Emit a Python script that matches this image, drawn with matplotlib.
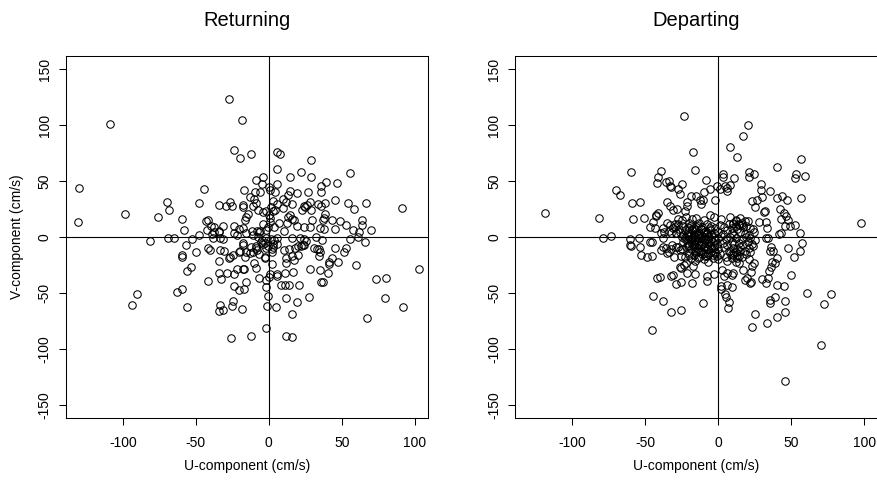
import matplotlib
matplotlib.use('Agg')
import matplotlib.pyplot as plt

# --- 配置 ---
plt.rcParams['font.family'] = ['Liberation Sans', 'DejaVu Sans']

TITLES = ['Returning', 'Departing']
X_LABEL = 'U-component (cm/s)'
Y_LABEL = 'V-component (cm/s)'
X_TICKS = [-100, -50, 0, 50, 100]
Y_TICKS = [-150, -100, -50, 0, 50, 100, 150]

# --- 数据: Returning (u, v) ---
ret_u = [-27.4, -18.7, -108.7, -130.0, -130.8, -98.4, -24.0, -19.6, -12.1, 5.7,
         7.5, 29.0, 5.9, 29.0, 22.4, 55.5, 14.8, 46.8, 39.3, 36.0,
         35.8, -4.3, -8.7, -4.6, 5.5, 0.0, 0.7, 4.1, 14.8, 19.2,
         26.7, 13.0, 9.6, 11.9, 15.8, 28.3, 33.6, 36.0, 38.6, 45.2,
         54.6, 58.7, 66.9, 91.6, -44.7, -47.9, -69.9, -68.5, -75.8, -81.3,
         -69.0, -64.8, -59.6, -57.8, -56.8, -52.7, -50.0, -47.5, -59.4, -59.4,
         -55.9, -53.2, -62.6, -59.8, -90.4, -93.8, -55.9, -34.2, -26.7, -25.3,
         -29.5, -17.1, -17.4, -17.4, -14.4, -15.9, -10.7, -8.9, -10.3, -13.0,
         -9.6, -5.9, -7.1, -4.1, -1.8, 0.0, 3.0, 4.6, 1.6, 2.7,
         5.9, 9.8, 14.6, 13.0, 12.3, 16.0, 17.1, 19.0, 22.8, 24.0,
         26.5, 25.1, 29.2, 29.9, 24.0, 28.1, 32.6, 36.5, 34.9, 37.7,
         37.7, 38.8, 37.2, 43.0, 45.2, 49.1, 52.7, 57.5, 55.5, 61.6,
         61.0, 63.9, 64.2, 69.9, 65.8, 53.2, 51.6, 45.2, 47.3, 41.6,
         41.1, 43.0, 40.9, 34.9, 37.2, 36.0, 28.5, 27.9, 30.8, 33.3,
         34.7, 35.4, 34.2, 59.8, 73.7, 80.6, 79.7, 91.8, 102.7, 67.1,
         20.5, 19.6, 15.8, 16.0, 11.9, 11.9, 13.9, 11.4, 8.4, 11.4,
         16.4, 11.9, 11.9, 10.7, 13.7, 15.8, 17.6, 19.9, 18.3, 20.1,
         22.4, 23.3, 24.4, 25.6, 24.2, 21.5, 16.2, 10.5, 3.7, 7.3,
         0.7, 0.7, -0.5, -3.7, -1.8, -5.9, -6.8, -8.4, -11.0, -7.3,
         -4.6, -1.8, 1.6, 3.9, 5.7, 3.0, 5.7, -2.3, -0.5, -1.6,
         2.3, 3.0, 2.5, -2.3, -2.5, -4.1, -5.3, -8.9, -9.1, -8.0,
         -10.7, -12.1, -13.0, -6.6, -10.3, -9.1, 2.3, 0.7, 0.0, -1.6,
         -6.4, 5.7, 5.7, -1.8, -0.7, -1.1, 5.0, -1.8, -12.3, -25.6,
         -25.1, -24.4, -33.6, -34.0, -31.5, -18.5, -24.0, -20.5, -17.1, -15.3,
         -42.0, -33.8, -32.9, -28.3, -24.0, -21.7, -17.8, -16.7, -16.0, -15.3,
         -19.4, -20.3, -17.8, -17.8, -24.2, -26.5, -27.4, -34.2, -33.1, -30.8,
         -42.0, -40.4, -33.6, -31.7, -37.7, -38.4, -38.6, -42.2, -42.7, -41.6,
         -39.7, -37.7, -33.8, -31.3, -34.2, -23.5, -23.5, -21.7, -20.5, -17.8,
         -16.2, -11.6, -15.8]
ret_v = [123.8, 105.0, 101.5, 44.0, 13.7, 21.0, 78.0, 71.0, 74.4, 76.2,
         74.7, 69.3, 61.3, 53.9, 58.3, 57.7, 53.3, 48.5, 49.4, 45.8,
         40.5, 53.9, 51.2, 47.6, 47.6, 45.0, 42.0, 40.5, 41.0, 39.0,
         40.2, 37.5, 34.5, 31.5, 29.5, 31.8, 29.8, 27.7, 30.7, 33.0,
         30.7, 25.3, 30.4, 25.9, 42.9, 30.1, 31.8, 23.8, 18.2, -3.9,
         -1.2, -0.9, 16.1, 6.3, -7.1, -1.5, -13.1, 1.8, -16.1, -17.6,
         -30.0, -26.5, -49.4, -46.4, -51.2, -61.0, -62.5, 28.6, 31.0, 27.7,
         28.0, 42.0, 28.9, 27.0, 20.8, 17.6, 28.0, 30.4, 34.5, 36.0,
         40.5, 39.9, 23.8, 22.3, 23.5, 19.6, 23.5, 23.8, 27.0, 32.7,
         29.5, 25.6, 19.6, 18.2, 12.8, 16.1, 15.2, 9.8, 24.1, 27.9,
         28.6, 26.5, 24.1, 15.2, 9.2, 8.6, -0.3, -2.7, 8.3, 6.8,
         16.7, 20.5, 15.2, 14.9, 7.4, 14.0, 11.0, 6.3, -1.8, 4.8,
         -0.3, 15.2, 10.7, 6.3, -4.8, -10.1, -13.1, -10.1, -22.0, -22.0,
         -24.4, -18.5, -32.4, -29.5, -39.9, -40.5, -28.6, -53.3, -10.1, -11.0,
         -11.0, -13.1, -16.7, -25.0, -37.8, -36.9, -54.2, -62.5, -28.6, -72.6,
         -42.9, -58.3, -69.0, -89.6, -88.1, -54.8, -42.9, -42.9, -42.9, -32.4,
         -31.5, -23.5, -19.0, -11.6, -11.0, -17.0, -20.5, -16.4, -10.1, -7.7,
         -8.0, -7.1, -6.8, -3.3, -1.8, -1.2, -0.6, 5.4, 8.6, 12.5,
         16.7, 13.7, 9.2, 11.3, 6.0, 5.4, 4.8, 5.7, 1.5, 0.3,
         -2.7, -0.6, -1.5, -2.7, -1.2, -6.3, -6.5, -5.7, -8.0, -10.1,
         -11.0, -9.2, -13.1, -17.6, -19.0, -6.3, -4.8, -8.0, -10.1, -11.6,
         -13.7, -8.6, -14.6, -15.2, -23.5, -28.0, -24.4, -33.3, -35.4, -38.4,
         -36.9, -33.0, -34.8, -44.9, -52.7, -61.6, -62.8, -81.5, -88.4, -89.9,
         -61.6, -57.4, -60.7, -66.1, -65.2, -64.6, -43.5, -47.3, -46.1, -39.9,
         -39.3, -32.4, -37.5, -32.4, -33.3, -28.3, -28.3, -28.3, -18.2, -13.7,
         -12.2, -13.1, -7.1, -5.1, -16.1, -18.2, -19.0, -21.4, -11.6, -12.5,
         -10.1, -11.6, -1.2, -2.1, 4.2, -1.2, 2.4, 6.3, 14.3, 15.2,
         9.8, 8.6, 5.4, 9.8, 4.8, 9.8, 3.3, 1.8, 6.8, 8.3,
         15.2, 5.7, 3.9]

# --- 数据: Departing (u, v) ---
dep_u = [-118.7, -81.5, -79.0, -73.6, -69.9, -67.4, -59.7, -59.2, -53.5, -58.8,
         -50.8, -60.6, -60.4, -59.9, -54.4, -53.8, -53.3, -49.2, -45.8, -47.2,
         -45.3, -42.1, -40.1, -44.9, -45.8, -38.0, -32.6, -25.5, -23.9, -17.5,
         -15.9, -39.4, -41.5, -41.9, -36.0, -33.9, -33.5, -32.6, -27.6, -25.1,
         -26.0, -35.5, -33.5, -31.0, -28.7, -28.0, -42.6, -41.5, -43.1, -45.1,
         -47.0, -43.7, -37.8, -37.4, -39.4, -33.9, -35.1, -31.2, -29.8, -21.6,
         -21.4, -22.8, -18.9, -15.0, -12.5, -10.5, -12.1, -8.7, -9.8, -5.9,
         -2.5, -1.1, 1.1, 3.4, 3.0, 4.3, 6.2, 6.2, 8.0, 10.7,
         8.0, 13.0, 16.9, 20.3, 21.2, 20.7, 24.6, 29.2, 28.9, 29.8,
         35.3, 26.2, 23.2, 25.3, 31.2, 31.9, 40.5, 56.7, 53.5, 52.8,
         59.2, 56.9, 40.3, 43.7, 47.2, 41.9, 45.3, 46.2, 47.4, 42.6,
         45.8, 49.0, 52.2, 55.6, 41.7, 42.6, 57.2, 55.6, 47.6, 51.7,
         40.3, 37.6, 36.4, 35.3, 32.8, 34.2, 33.0, 32.3, 27.8, 23.7,
         24.4, 49.9, 40.1, 45.3, 38.5, 35.3, 35.5, 45.8, 45.8, 39.9,
         33.0, 23.2, 25.1, 61.0, 72.4, 77.4, 70.4, 45.8, 97.9, 36.0,
         36.7, 38.7, 34.6, 34.2, 32.3, 30.1, 22.1, 21.4, 18.0, 19.4,
         22.6, 23.0, 24.4, 17.1, 14.4, 9.6, 10.3, 6.2, 3.9, 2.3,
         9.6, 2.0, 2.0, 4.3, 5.0, 7.3, 6.8, 6.2, -3.2, -8.0,
         -8.0, -10.7, -18.2, -21.4, -28.9, -25.7, -31.2, -32.6, -26.2, -25.5,
         -23.9, -15.7, -17.5, -23.0, -25.5, -30.3, -34.9, -33.7, -36.0, -39.4,
         -37.8, -31.7, -29.2, -27.6, -32.6, -26.2, -38.0, -32.6, -29.2,
         # dense cluster
         -22, -18, -15, -10, -6, -3, 2, 8, 12, 15, 18, 10, 14, 16, 20, -25, -28, -20, -13,
         -24, -21, -19, -17, -14, -11, -8, -5, -2, 1, 4, 7, 9, 12, 13, 17, 19, 22, -30, -27, -33,
         -26, -23, -21, -19, -16, -13, -10, -8, -6, -3, 0, 3, 6, 9, 11, 15, 18, 21, -29, -24, -18, -12,
         -25, -22, -20, -18, -16, -14, -12, -10, -7, -5, -3, 0, 2, 5, 8, 12, 16, 19, 22, -21, -17, -9, -23,
         -24, -21, -19, -17, -15, -13, -11, -9, -7, -4, -1, 3, 6, 9, 11, 14, 17, 20, 23, 25, -20, -16, -6, -2,
         -22, -19, -17, -14, -12, -10, -8, -5, -3, 0, 4, 7, 10, 13, 15, 18, 21, 24, -25, -15,
         -20, -17, -14, -11, -9, -6, -4, -2, 1, 8, 10, 12, 14, 19, 22, -7, -1,
         -19, -16, -13, -10, -7, -4, 0, 6, 9, 12, 16, 21, -22,
         # extra overlap in the core
         -20, -18, -15, -12, -9, -6, -17, -14, -11, -8, -5, -19, -16, -13, -10, -7,
         -21, -18, -15, -12, -9, -4, -16, -13, -10, -7, 10, 12, 14, 16, 11, 13, 15, 9,
         -20, -14, -8, -2, 5, 13]
dep_v = [21.1, 16.7, -0.9, 1.2, 41.7, 37.2, 58.0, 30.7, 31.3, 15.8,
         17.3, -1.8, -7.1, -7.7, -0.9, -8.6, -16.4, -17.9, -17.3, -4.8,
         -4.8, -36.9, -36.0, -52.7, -82.7, -57.1, -67.3, -64.9, 108.0, 75.9,
         60.4, 59.2, 53.9, 48.5, 49.1, 50.6, 45.8, 44.9, 42.6, 47.3,
         38.1, 31.0, 28.0, 24.1, 25.0, 16.4, 20.2, 21.1, 18.8, 13.7,
         9.2, 8.3, 8.3, 4.8, 3.3, 5.7, 12.8, 8.3, 11.3, 31.3,
         28.0, 23.2, 36.6, 36.6, 33.0, 33.0, 29.5, 50.9, 40.5, 42.9,
         33.6, 45.5, 42.9, 56.8, 53.9, 45.8, 43.5, 41.4, 46.4, 52.4,
         80.4, 71.4, 90.2, 100.0, 58.0, 53.9, 56.5, 47.9, 41.7, 36.0,
         41.1, 33.6, 32.7, 27.1, 22.6, 23.5, 63.1, 69.6, 56.0, 52.4,
         54.2, 34.8, 34.8, 36.9, 33.0, 25.0, 21.1, 18.5, 15.2, 16.1,
         9.8, 9.8, 10.4, 3.9, 2.4, 3.3, -5.7, -12.5, -9.8, -18.2,
         -19.0, -12.5, -8.6, -12.2, -1.2, -0.9, 7.7, 13.7, 13.7, 6.8,
         4.8, -33.9, -42.9, -44.0, -53.3, -56.2, -58.6, -57.1, -66.7, -71.4,
         -77.1, -80.7, -69.0, -50.0, -59.5, -51.2, -96.1, -128.6, 12.5, -26.5,
         -22.6, -23.2, -30.4, -36.3, -41.4, -37.2, -39.9, -40.8, -38.4, -36.3,
         -31.0, -25.6, -23.5, -29.2, -23.5, -34.2, -31.8, -32.1, -34.8, -29.5,
         -44.3, -43.8, -46.1, -51.2, -53.3, -57.7, -63.7, -42.9, -33.0, -34.8,
         -39.0, -58.9, -41.4, -32.4, -42.0, -39.9, -33.9, -34.8, -26.5, -27.4,
         -25.0, -33.0, -25.6, -17.6, -17.0, -17.6, -14.6, -13.7, -10.1, -11.6,
         -8.6, -7.1, -9.2, -8.6, -10.7, -11.6, -1.2, 3.3, 3.3,
         # dense cluster
         18, 16, 17, 15, 20, 18, 16, 18, 15, 17, 14, 13, 12, 11, 14, 15, 12, 13, 13,
         10, 9, 11, 8, 10, 9, 12, 10, 8, 11, 9, 12, 8, 10, 7, 9, 10, 8, 9, 7, 11,
         5, 6, 4, 3, 6, 4, 5, 3, 6, 4, 5, 3, 6, 4, 2, 5, 3, 2, 4, 2, 7, 7,
         0, -1, 1, -1, 0, 2, -1, 0, 1, -2, 0, -1, 1, -2, 0, -1, -2, 0, -1, 2, 2, -2, -2,
         -4, -5, -3, -6, -4, -7, -5, -3, -6, -4, -6, -5, -7, -4, -6, -5, -7, -4, -6, -3, -7, -3, -7, -3,
         -9, -11, -8, -10, -12, -9, -11, -10, -8, -11, -9, -12, -10, -11, -9, -12, -10, -8, -11, -12,
         -14, -16, -13, -15, -17, -14, -16, -13, -15, -14, -16, -13, -17, -15, -13, -15, -17,
         -19, -21, -18, -20, -22, -19, -20, -21, -19, -22, -18, -20, -23,
         # extra overlap in the core
         8, 6, 9, 7, 5, 8, 2, 3, 1, 4, 2, -2, -3, -1, -4, -2,
         -8, -6, -9, -7, -8, -10, -13, -12, -14, -11, 12, 14, 11, 13, -14, -16, -12, -15,
         -16, -19, -17, -14, -18, -19]

XLIM = (-139.2, 109.2)
YLIM = (-162, 162)

# --- 创建图形 ---
W, H = 878, 482
fig = plt.figure(figsize=(W / 100, H / 100), dpi=100)

# 两个方形绘图区 (像素位置)
panels = [(65.7, ret_u, ret_v), (515.3, dep_u, dep_v)]
bottom_px, size_px = 418.3, 362.4

for i, (left_px, u, v) in enumerate(panels):
    ax = fig.add_axes([left_px / W, (H - bottom_px) / H, size_px / W, size_px / H])
    ax.plot(u, v, 'o', ms=5.4, mfc='none', mec='black', mew=0.75, linestyle='none')
    ax.axhline(0, color='black', lw=0.8)
    ax.axvline(0, color='black', lw=0.8)
    ax.set_xlim(*XLIM)
    ax.set_ylim(*YLIM)
    ax.set_xticks(X_TICKS)
    ax.set_yticks(Y_TICKS)
    ax.set_xticklabels([str(t) for t in X_TICKS])
    ax.set_yticklabels([str(t) for t in Y_TICKS], rotation=90, va='center')
    ax.tick_params(axis='both', direction='out', length=5, width=0.75, labelsize=10)
    ax.tick_params(axis='x', pad=8)
    ax.tick_params(axis='y', pad=5)
    for s in ax.spines.values():
        s.set_linewidth(0.75)

    cx = (left_px + size_px / 2) / W
    fig.text(cx, 1 - 21 / H, TITLES[i], ha='center', va='center', fontsize=14.5)
    fig.text(cx, 1 - 466 / H, X_LABEL, ha='center', va='center', fontsize=10)

fig.text(17.3 / W, 1 - 237 / H, Y_LABEL, ha='center', va='center', rotation=90, fontsize=10)

fig.savefig('out.png', dpi=100)
